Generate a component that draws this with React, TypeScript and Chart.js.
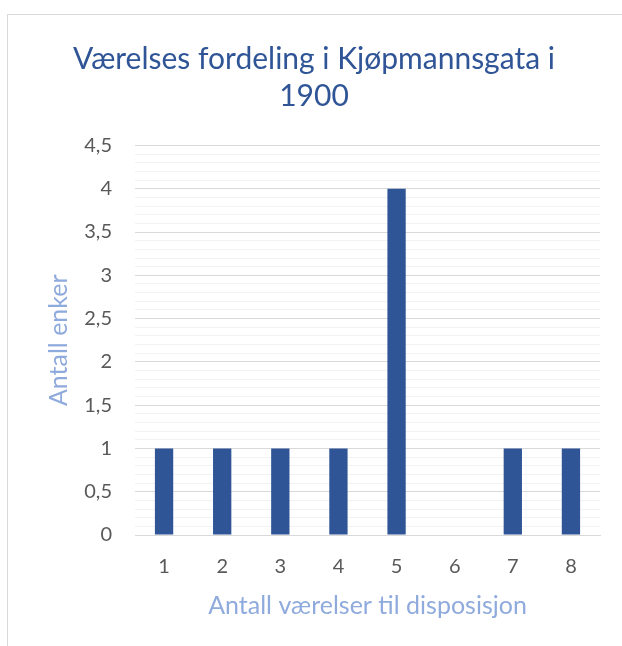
import React, { useEffect, useRef } from "react";
import { Chart, registerables } from "chart.js";

Chart.register(...registerables);

const categories = ["1", "2", "3", "4", "5", "6", "7", "8"];
const values = [1, 1, 1, 1, 4, 0, 1, 1];
const titleLines = ["Værelses fordeling i Kjøpmannsgata i", "1900"];
const xTitle = "Antall værelser til disposisjon";
const yTitle = "Antall enker";

const FONT = "Lato, 'Open Sans', sans-serif";

function isMajor(v: number) {
  return Math.abs(v * 2 - Math.round(v * 2)) < 1e-6;
}

export default function App() {
  const ref = useRef<HTMLCanvasElement | null>(null);
  useEffect(() => {
    if (!ref.current) return;
    const chart = new Chart(ref.current, {
      type: "bar",
      data: {
        labels: categories,
        datasets: [
          {
            data: values,
            backgroundColor: "#2F5597",
            borderWidth: 0,
            categoryPercentage: 1,
            barPercentage: 0.315,
          },
        ],
      },
      options: {
        responsive: false,
        animation: false,
        layout: { padding: { left: 28, right: 22, top: 14, bottom: 12 } },
        plugins: {
          legend: { display: false },
          tooltip: { enabled: false },
          title: {
            display: true,
            text: titleLines,
            color: "#2F5597",
            font: { family: FONT, size: 30, weight: "normal", lineHeight: 1.233 },
            padding: { top: 26.5, bottom: 31 },
          },
        },
        scales: {
          x: {
            afterFit: (scale: any) => {
              scale.height = 99;
            },
            grid: { display: false, drawTicks: false },
            border: { display: true, color: "#d9d9d9", width: 1 },
            ticks: { color: "#595959", font: { family: FONT, size: 20 }, padding: 20 },
            title: {
              display: true,
              text: xTitle,
              color: "#8FAADC",
              font: { family: FONT, size: 25 },
              padding: { top: 10, bottom: 13 },
            },
          },
          y: {
            min: 0,
            max: 4.5,
            afterFit: (scale: any) => {
              scale.width = 107;
            },
            border: { display: false },
            grid: {
              drawTicks: false,
              color: (ctx: any) => (isMajor(ctx.tick.value) ? "#d9d9d9" : "#f2f2f2"),
              lineWidth: 1,
            },
            ticks: {
              stepSize: 0.1,
              autoSkip: false,
              color: "#595959",
              font: { family: FONT, size: 20 },
              padding: 23,
              callback: (v: any) => {
                const n = Number(v);
                return isMajor(n) ? String(Math.round(n * 10) / 10).replace(".", ",") : "";
              },
            },
            title: {
              display: true,
              text: yTitle,
              color: "#8FAADC",
              font: { family: FONT, size: 25 },
              padding: { top: 16, bottom: 0 },
            },
          },
        },
      },
    });
    return () => chart.destroy();
  }, []);
  return (
    <div style={{ position: "fixed", left: 0, top: 0, width: 622, height: 646, background: "#fff" }}>
      <div
        style={{
          position: "absolute",
          left: 7,
          top: 14,
          width: 640,
          height: 660,
          border: "1px solid #d9d9d9",
          boxSizing: "border-box",
        }}
      />
      <canvas ref={ref} width={622} height={646} style={{ position: "absolute", left: 0, top: 0 }} />
    </div>
  );
}
